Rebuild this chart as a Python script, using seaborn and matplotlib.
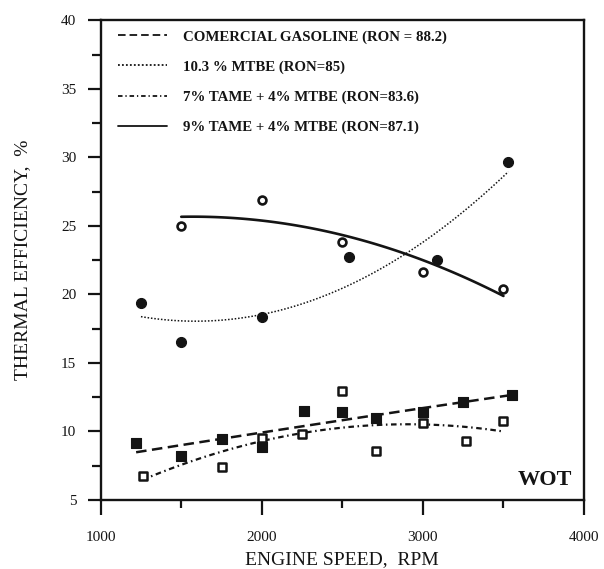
import matplotlib
matplotlib.use("Agg")
import matplotlib.pyplot as plt
import numpy as np
import pandas as pd
import seaborn as sns
from matplotlib.ticker import FixedLocator

# ---------------- data ----------------
gas_rpm = [1220, 1500, 1750, 2000, 2260, 2500, 2710, 3000, 3250, 3550]
gas_eff = [9.15, 8.2, 9.45, 8.9, 11.5, 11.45, 10.95, 11.4, 12.13, 12.67]

mtbe_rpm = [1250, 1500, 2000, 2540, 3090, 3530]
mtbe_eff = [19.4, 16.5, 18.35, 22.75, 22.55, 29.65]

tame7_rpm = [1260, 1750, 2000, 2250, 2500, 2710, 3000, 3270, 3500]
tame7_eff = [6.77, 7.41, 9.55, 9.8, 12.93, 8.6, 10.65, 9.27, 10.78]

tame9_rpm = [1500, 2000, 2500, 3000, 3500]
tame9_eff = [25.0, 26.9, 23.85, 21.65, 20.4]

series_labels = [
    "COMERCIAL GASOLINE (RON = 88.2)",
    "10.3 % MTBE (RON=85)",
    "7% TAME + 4% MTBE (RON=83.6)",
    "9% TAME + 4% MTBE (RON=87.1)",
]

x_major = [1000, 2000, 3000, 4000]
x_minor = [1500, 2500, 3500]
y_major = [5, 10, 15, 20, 25, 30, 35, 40]
y_minor = [7.5, 12.5, 17.5, 22.5, 27.5, 32.5, 37.5]

# ---------------- style ----------------
sns.set_theme(style="ticks")
plt.rcParams["font.family"] = ["Liberation Serif", "DejaVu Serif"]
INK = "#141414"
plt.rcParams["axes.edgecolor"] = INK
plt.rcParams["axes.linewidth"] = 1.6
plt.rcParams["xtick.color"] = INK
plt.rcParams["ytick.color"] = INK
plt.rcParams["text.color"] = INK
plt.rcParams["axes.labelcolor"] = INK

fig = plt.figure(figsize=(6.04, 5.69), dpi=100)
fig.patch.set_facecolor("white")
ax = fig.add_axes([0.1667, 0.1213, 0.8002, 0.8427])
ax.set_facecolor("white")

gas = pd.DataFrame({"rpm": gas_rpm, "eff": gas_eff})
mtbe = pd.DataFrame({"rpm": mtbe_rpm, "eff": mtbe_eff})
tame7 = pd.DataFrame({"rpm": tame7_rpm, "eff": tame7_eff})
tame9 = pd.DataFrame({"rpm": tame9_rpm, "eff": tame9_eff})

# quadratic regression trend lines
sns.regplot(data=gas, x="rpm", y="eff", order=2, ci=None, scatter=False, ax=ax,
            label=series_labels[0],
            line_kws=dict(color=INK, lw=1.8, linestyle=(0, (4.2, 2.2))))
sns.regplot(data=mtbe, x="rpm", y="eff", order=2, ci=None, scatter=False, ax=ax,
            label=series_labels[1],
            line_kws=dict(color=INK, lw=1.1, linestyle=(0, (1, 1.2))))
sns.regplot(data=tame7, x="rpm", y="eff", order=2, ci=None, scatter=False, ax=ax,
            label=series_labels[2],
            line_kws=dict(color=INK, lw=1.6, linestyle=(0, (2.5, 1.6, 0.7, 1.6))))
sns.regplot(data=tame9, x="rpm", y="eff", order=2, ci=None, scatter=False, ax=ax,
            label=series_labels[3],
            line_kws=dict(color=INK, lw=1.9, linestyle="-"))

# markers
sns.scatterplot(data=gas, x="rpm", y="eff", marker="s", s=42, color=INK,
                edgecolor=INK, linewidth=0.8, ax=ax, legend=False, zorder=4)
sns.scatterplot(data=mtbe, x="rpm", y="eff", marker="o", s=52, color=INK,
                edgecolor=INK, linewidth=0.8, ax=ax, legend=False, zorder=4)
sns.scatterplot(data=tame7, x="rpm", y="eff", marker="s", s=28, facecolor="white",
                edgecolor=INK, linewidth=1.8, ax=ax, legend=False, zorder=4)
sns.scatterplot(data=tame9, x="rpm", y="eff", marker="o", s=32, facecolor="white",
                edgecolor=INK, linewidth=1.9, ax=ax, legend=False, zorder=4)

# axes
ax.set_xlim(1000, 4000)
ax.set_ylim(5, 40)
ax.xaxis.set_major_locator(FixedLocator(x_major))
ax.xaxis.set_minor_locator(FixedLocator(x_minor))
ax.yaxis.set_major_locator(FixedLocator(y_major))
ax.yaxis.set_minor_locator(FixedLocator(y_minor))
ax.set_xticklabels([str(v) for v in x_major])
ax.set_yticklabels([str(v) for v in y_major])
for sp in ax.spines.values():
    sp.set_visible(True)
    sp.set_linewidth(1.7)
    sp.set_color(INK)

ax.tick_params(axis="x", which="major", direction="out", length=10.5, width=1.6,
               labelsize=11, pad=12)
ax.tick_params(axis="x", which="minor", direction="out", length=5.5, width=1.6)
ax.tick_params(axis="y", which="major", direction="out", length=9.5, width=1.6,
               labelsize=11, pad=8)
ax.tick_params(axis="y", which="minor", direction="out", length=6.5, width=1.6)
ax.tick_params(top=False, right=False, which="both")

ax.set_xlabel("ENGINE SPEED,  RPM", fontsize=14, va="center")
ax.set_ylabel("THERMAL EFFICIENCY,  %", fontsize=14, va="center")
ax.xaxis.set_label_coords(0.5, -0.125)
ax.yaxis.set_label_coords(-0.161, 0.5)

leg = ax.legend(loc="upper left", bbox_to_anchor=(0.036, 0.980), frameon=False,
                borderaxespad=0, borderpad=0, handlelength=3.3, handletextpad=1.1,
                labelspacing=1.12,
                prop=dict(family="Liberation Serif", weight="bold", size=10.7))
for h in leg.get_lines():
    h.set_linewidth(1.3)

ax.text(0.919, 0.042, "WOT", transform=ax.transAxes, ha="center", va="center",
        fontsize=16, fontweight="bold", color=INK)

fig.savefig("out.png", dpi=100, facecolor="white")
